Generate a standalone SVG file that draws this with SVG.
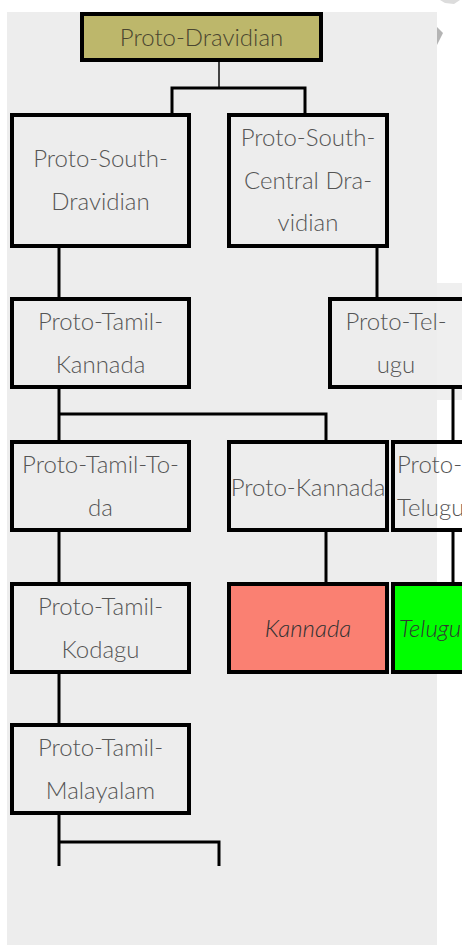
<svg xmlns="http://www.w3.org/2000/svg" width="462" height="945" viewBox="0 0 462 945">
<style>
.box{fill:none;stroke:#000;stroke-width:4}
.t{font-family:Lato,"Noto Sans",sans-serif;font-weight:300;font-size:24px;fill:#555;text-anchor:middle}
.s{text-anchor:start}
.i{font-style:italic;fill:#333}
.c{stroke:#000;stroke-width:3;fill:none}
</style>
<rect x="0" y="0" width="462" height="945" fill="#fff"/>
<rect x="7" y="12" width="430" height="933" fill="#ededed"/>
<rect x="437" y="283" width="25" height="117" fill="#efefef"/>
<polygon points="437,27 443,33 437,45" fill="#b4b4b4"/>
<polygon points="440,0 460,0 454,4 445,3" fill="#dcdcdc"/>
<g id="connectors">
<line x1="219" y1="61" x2="219" y2="88" stroke="#444" stroke-width="2"/>
<polyline class="c" points="172,114 172,88 305,88 305,114"/>
<line class="c" x1="59" y1="247" x2="59" y2="298"/>
<line class="c" x1="377" y1="247" x2="377" y2="298"/>
<line class="c" x1="59" y1="388" x2="59" y2="441"/>
<polyline class="c" points="59,414 326,414 326,441"/>
<line class="c" x1="453" y1="388" x2="453" y2="441"/>
<line class="c" x1="59" y1="531" x2="59" y2="583"/>
<line class="c" x1="326" y1="531" x2="326" y2="583"/>
<line class="c" x1="453" y1="531" x2="453" y2="583"/>
<line class="c" x1="59" y1="673" x2="59" y2="724"/>
<line class="c" x1="59" y1="814" x2="59" y2="866"/>
<polyline class="c" points="59,842 219,842 219,866"/>
</g>
<g id="proto-dravidian">
<rect class="box" x="82" y="14" width="239" height="46" style="fill:#bdb76b"/>
<text class="t" x="201.5" y="46" style="fill:#4a4630">Proto-Dravidian</text>
</g>
<g id="proto-south-dravidian">
<rect class="box" x="12" y="115" width="177" height="131"/>
<text class="t" x="100.5" y="167">Proto-South-</text>
<text class="t" x="100.5" y="210">Dravidian</text>
</g>
<g id="proto-south-central-dravidian">
<rect class="box" x="229" y="115" width="158" height="131"/>
<text class="t" x="308" y="146">Proto-South-</text>
<text class="t" x="308" y="189">Central Dra-</text>
<text class="t" x="308" y="231">vidian</text>
</g>
<g id="proto-tamil-kannada">
<rect class="box" x="12" y="299" width="177" height="88"/>
<text class="t" x="100.5" y="330">Proto-Tamil-</text>
<text class="t" x="100.5" y="373">Kannada</text>
</g>
<g id="proto-telugu-1">
<rect class="box" x="330" y="299" width="160" height="88"/>
<text class="t" x="396" y="330">Proto-Tel-</text>
<text class="t" x="396" y="373">ugu</text>
</g>
<g id="proto-tamil-toda">
<rect class="box" x="12" y="442" width="177" height="88"/>
<text class="t" x="100.5" y="473">Proto-Tamil-To-</text>
<text class="t" x="100.5" y="516">da</text>
</g>
<g id="proto-kannada">
<rect class="box" x="229" y="442" width="158" height="88"/>
<text class="t" x="308" y="496">Proto-Kannada</text>
</g>
<g id="proto-telugu-2">
<rect class="box" x="393" y="442" width="160" height="88"/>
<text class="t s" x="397" y="473">Proto-</text>
<text class="t s" x="397" y="516">Telugu</text>
</g>
<g id="proto-tamil-kodagu">
<rect class="box" x="12" y="584" width="177" height="88"/>
<text class="t" x="100.5" y="615">Proto-Tamil-</text>
<text class="t" x="100.5" y="658">Kodagu</text>
</g>
<g id="kannada">
<rect class="box" x="229" y="584" width="158" height="88" style="fill:#fa8072"/>
<text class="t i" x="308" y="637">Kannada</text>
</g>
<g id="telugu">
<rect class="box" x="393" y="584" width="160" height="88" style="fill:#00ff00"/>
<text class="t i s" x="399" y="637">Telugu</text>
</g>
<g id="proto-tamil-malayalam">
<rect class="box" x="12" y="725" width="177" height="88"/>
<text class="t" x="100.5" y="756">Proto-Tamil-</text>
<text class="t" x="100.5" y="799">Malayalam</text>
</g>
</svg>
